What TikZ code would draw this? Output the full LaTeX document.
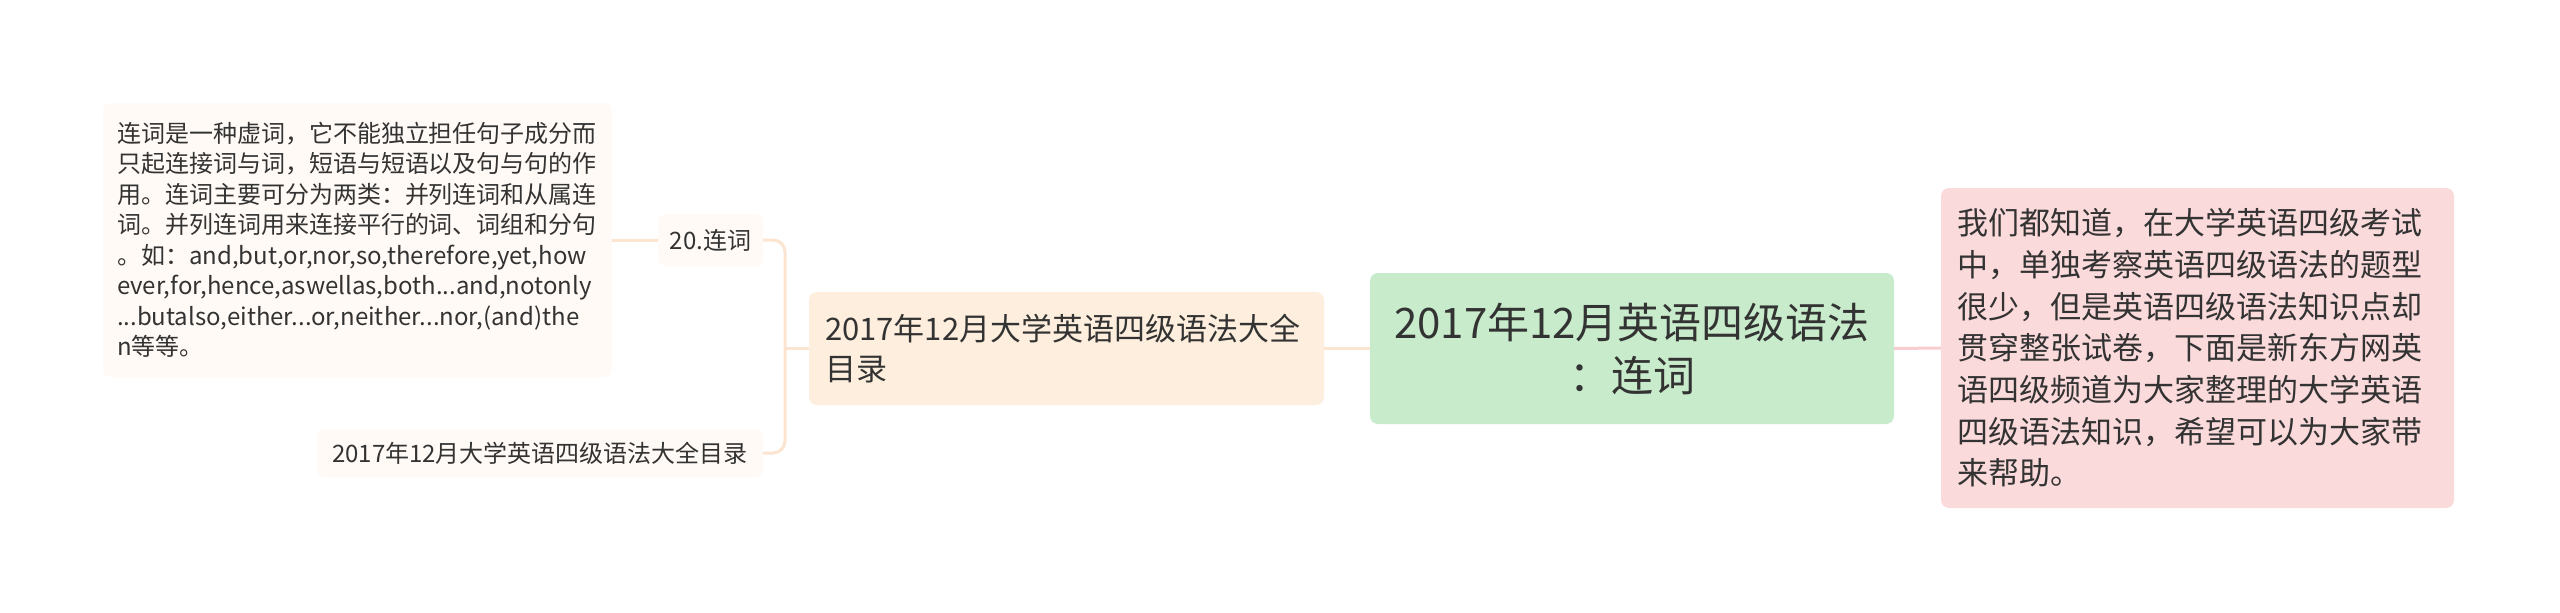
\documentclass[tikz,border=0pt]{standalone}
\usepackage{fontspec}
\setmainfont{Noto Sans CJK SC}
\usetikzlibrary{calc}
\definecolor{txt}{HTML}{333333}
\definecolor{rootfill}{HTML}{C8ECCB}
\definecolor{secfill}{HTML}{FDEEDD}
\definecolor{pinkfill}{HTML}{FBDADB}
\definecolor{leaffill}{HTML}{FFFAF5}
\definecolor{peachline}{HTML}{FBE4D0}
\definecolor{pinkline}{HTML}{F8CDD0}
\begin{document}
\begin{tikzpicture}[x=1pt,y=-1pt,
  box/.style={rectangle, rounded corners=8pt, draw=none, text=txt, inner xsep=16pt, inner ysep=0pt},
  conn/.style={line width=3pt, peachline},
  pconn/.style={line width=3pt, pinkline}]
\useasboundingbox (0,0) rectangle (2560,613);
\fill[white] (0,0) rectangle (2560,613);

\node[box, fill=rootfill, minimum width=524pt, minimum height=151pt, align=center,
  font={\fontsize{42}{53}\selectfont}] (root) at (1632,348.5)
  {2017年12月英语四级语法\\：连词};

\node[box, fill=secfill, minimum width=515pt, minimum height=113pt, text width=483pt, align=left,
  font={\fontsize{31}{40}\selectfont}] (sec) at (1066.5,348.5)
  {2017年12月大学英语四级语法大全\\目录};

\node[box, fill=pinkfill, minimum width=513pt, minimum height=320pt, text width=481pt, align=left,
  font={\fontsize{31}{41.7}\selectfont}] (intro) at (2197.5,348)
  {我们都知道，在大学英语四级考试\\中，单独考察英语四级语法的题型\\很少，但是英语四级语法知识点却\\贯穿整张试卷，下面是新东方网英\\语四级频道为大家整理的大学英语\\四级语法知识，希望可以为大家带\\来帮助。};

\node[box, fill=leaffill, minimum width=105pt, minimum height=52pt, inner xsep=0pt,
  font={\fontsize{24}{30}\selectfont}] (n20) at (710.5,240) {20.连词};

\node[box, fill=leaffill, minimum width=446pt, minimum height=48pt, inner xsep=0pt,
  font={\fontsize{24}{30}\selectfont}] (toc) at (540,453)
  {2017年12月大学英语四级语法大全目录};

\node[box, fill=leaffill, minimum width=509pt, minimum height=274pt, text width=481pt, align=left,
  inner xsep=14pt, font={\fontsize{24}{30.5}\selectfont}] (desc) at (357.5,240)
  {连词是一种虚词，它不能独立担任句子成分而\\只起连接词与词，短语与短语以及句与句的作\\用。连词主要可分为两类：并列连词和从属连\\词。并列连词用来连接平行的词、词组和分句\\。如：and,but,or,nor,so,therefore,yet,how\\ever,for,hence,aswellas,both...and,notonly\\...butalso,either...or,neither...nor,(and)the\\n等等。};

\coordinate (jx) at (785,348.5);

\begin{scope}[on background layer/.try]
\draw[pconn] (root.east) -- (intro.west);
\draw[conn] (sec.east) -- (root.west);
\draw[conn] (sec.west) -- (jx);
\draw[conn, rounded corners=12pt] (n20.east) -| (jx |- toc.east) -- (toc.east);
\draw[conn] (desc.east |- n20.west) -- (n20.west);
\end{scope}
\end{tikzpicture}
\end{document}
